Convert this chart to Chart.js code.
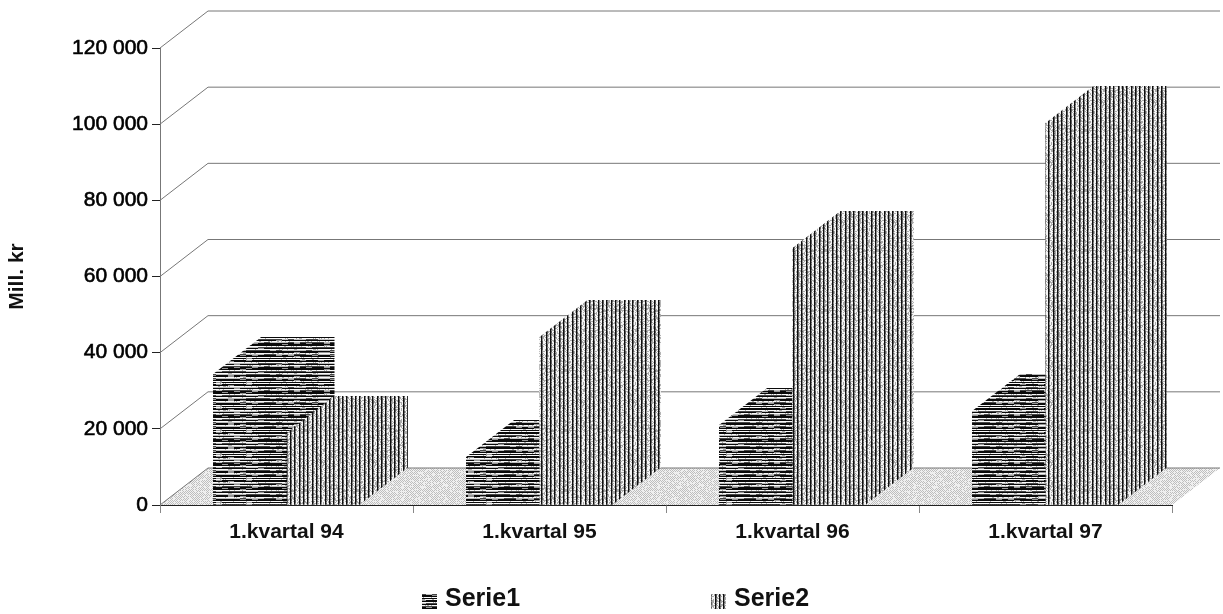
<!DOCTYPE html>
<html>
<head>
<meta charset="utf-8">
<style>
  html, body { margin: 0; padding: 0; background: #fff; }
  #wrap { width: 1223px; height: 614px; position: relative; }
</style>
<script src="https://cdn.jsdelivr.net/npm/chart.js@4"></script>
</head>
<body>
<div id="wrap"><canvas id="chart"></canvas></div>
<script>
const categories = ['1.kvartal 94', '1.kvartal 95', '1.kvartal 96', '1.kvartal 97'];
const serie1 = [34400, 12600, 21000, 24700];
const serie2 = [18900, 44100, 67500, 100300];
const yTicks = [0, 20000, 40000, 60000, 80000, 100000, 120000];

const depthX = 48;
const depthY = 37;

// repeatable speckle for the scanned look of the hatching
const speckle = (x, y) => {
    const s = Math.sin(x * 12.9898 + y * 78.233) * 43758.5453;
    return s - Math.floor(s);
};

const makeTile = (w, h, shade) => {
    const c = document.createElement('canvas');
    c.width = w;
    c.height = h;
    const g = c.getContext('2d');
    const img = g.createImageData(w, h);
    for (let y = 0; y < h; ++y) {
        for (let x = 0; x < w; ++x) {
            const v = shade(x, y);
            const i = (y * w + x) * 4;
            img.data[i] = img.data[i + 1] = img.data[i + 2] = v;
            img.data[i + 3] = 255;
        }
    }
    g.putImageData(img, 0, 0);
    return g.createPattern(c, 'repeat');
};

const horizontalHatch = makeTile(120, 24, (x, y) => {
    const heavy = [0, 1, 4, 7, 8, 9, 12, 15, 16, 19, 20, 22];
    const mid = [3, 6, 11, 14, 18];
    const run = speckle(Math.floor(x / 6), y);
    if (heavy.includes(y)) return run > 0.85 ? 150 : 10;
    if (mid.includes(y)) return run > 0.5 ? 70 : 190;
    return speckle(x, y) > 0.85 ? 170 : 250;
});

const verticalHatch = makeTile(52, 60, (x, y) => {
    const col = x % 13;
    if (col === 0 || col === 4 || col === 8) return 15;
    if (col === 1 || col === 5 || col === 9) return speckle(x, y) > 0.5 ? 90 : 140;
    return speckle(x, y) > 0.6 ? 170 : 245;
});

const floorFill = makeTile(64, 64, (x, y) => {
    if ((x + y) % 2 === 0) return speckle(x, y) > 0.8 ? 235 : 190;
    return 242;
});

const wallPlugin = {
    id: 'wall',
    beforeDatasetsDraw(chart) {
        const { ctx, chartArea: a, scales: { y } } = chart;
        ctx.save();
        // floor
        ctx.fillStyle = floorFill;
        ctx.beginPath();
        ctx.moveTo(a.left, a.bottom);
        ctx.lineTo(a.left + depthX, a.bottom - depthY);
        ctx.lineTo(a.right + depthX, a.bottom - depthY);
        ctx.lineTo(a.right, a.bottom);
        ctx.closePath();
        ctx.fill();
        // grid lines run up the side wall and along the back
        ctx.strokeStyle = '#777';
        ctx.lineWidth = 1;
        for (const v of yTicks) {
            const p = y.getPixelForValue(v);
            ctx.beginPath();
            ctx.moveTo(a.left, p);
            ctx.lineTo(a.left + depthX, p - depthY);
            ctx.lineTo(a.right + depthX, p - depthY);
            ctx.stroke();
        }
        // depth faces, Serie1 first so Serie2 can overlap it
        chart.data.datasets.forEach((ds, idx) => {
            ctx.fillStyle = ds.backgroundColor;
            for (const bar of chart.getDatasetMeta(idx).data) {
                const l = bar.x - bar.width / 2;
                const r = bar.x + bar.width / 2;
                ctx.beginPath();
                ctx.moveTo(l, bar.y);
                ctx.lineTo(l + depthX, bar.y - depthY);
                ctx.lineTo(r + depthX, bar.y - depthY);
                ctx.lineTo(r + depthX, bar.base - depthY);
                ctx.lineTo(r, bar.base);
                ctx.lineTo(l, bar.base);
                ctx.closePath();
                ctx.fill();
            }
        });
        ctx.restore();
    },
    afterDraw(chart) {
        // legend with the wide gap of the original
        const { ctx } = chart;
        const spots = [422, 711];
        ctx.save();
        ctx.font = 'bold 25px ' + fontFamily;
        ctx.textBaseline = 'alphabetic';
        chart.data.datasets.forEach((ds, idx) => {
            ctx.fillStyle = ds.backgroundColor;
            ctx.fillRect(spots[idx], 594, 15, 15);
            ctx.fillStyle = '#111';
            ctx.fillText(ds.label, spots[idx] + 23, 606);
        });
        ctx.restore();
    }
};

const fontFamily = '"Liberation Sans", Arial, sans-serif';

new Chart(document.getElementById('chart'), {
    type: 'bar',
    data: {
        labels: categories,
        datasets: [
            { label: 'Serie1', data: serie1, backgroundColor: horizontalHatch },
            { label: 'Serie2', data: serie2, backgroundColor: verticalHatch }
        ]
    },
    plugins: [wallPlugin],
    options: {
        responsive: true,
        maintainAspectRatio: false,
        animation: false,
        categoryPercentage: 0.58,
        barPercentage: 1,
        layout: { padding: { top: 48, right: 51, left: 0, bottom: 67 } },
        plugins: {
            tooltip: { enabled: false },
            legend: { display: false }
        },
        scales: {
            x: {
                grid: { drawOnChartArea: false, color: '#888', tickLength: 8 },
                border: { color: '#222' },
                ticks: {
                    color: '#111',
                    padding: 7,
                    maxRotation: 0,
                    font: { family: fontFamily, size: 21, weight: 'bold' }
                },
                afterFit(scale) { scale.height = 42; }
            },
            y: {
                min: 0,
                max: 120000,
                afterBuildTicks(scale) { scale.ticks = yTicks.map(v => ({ value: v })); },
                grid: { drawOnChartArea: false, color: '#222', tickLength: 8 },
                border: { color: '#777' },
                title: {
                    display: true,
                    text: 'Mill. kr',
                    color: '#111',
                    padding: { top: 5, bottom: 0 },
                    font: { family: fontFamily, size: 21, weight: 'bold' }
                },
                ticks: {
                    color: '#000',
                    padding: 4,
                    textStrokeColor: '#000',
                    textStrokeWidth: 0.6,
                    font: { family: fontFamily, size: 21, weight: 'normal' },
                    callback: v => String(v).replace(/\B(?=(\d{3})+$)/g, ' ')
                },
                afterFit(scale) { scale.width = 160; }
            }
        }
    }
});
</script>
</body>
</html>
